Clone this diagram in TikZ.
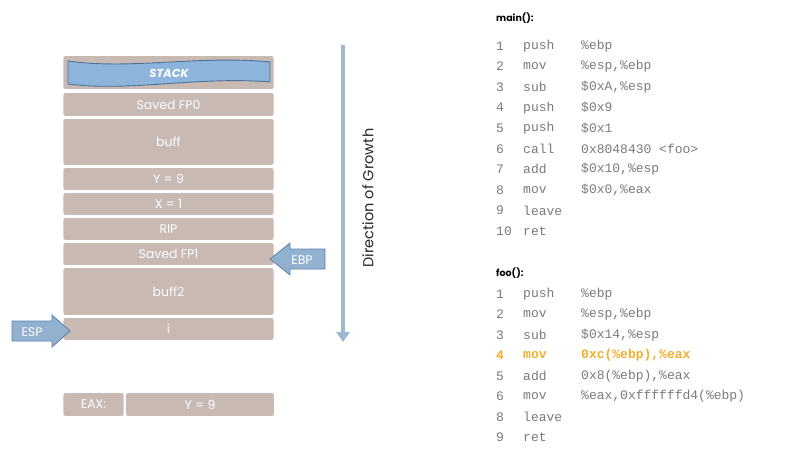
\documentclass[tikz,border=0pt]{standalone}
\usepackage{fontspec}
\setmainfont{Poppins}
\setmonofont{Liberation Mono}
\usetikzlibrary{arrows.meta}
\definecolor{boxc}{HTML}{C9B9B3}
\definecolor{banner}{HTML}{8DB4DA}
\definecolor{bannerb}{HTML}{4D7398}
\definecolor{growth}{HTML}{9DB8D1}
\definecolor{arrf}{HTML}{92B1CF}
\definecolor{arrb}{HTML}{5E82A8}
\definecolor{codec}{HTML}{7A7A7A}
\definecolor{hl}{HTML}{F2AE2E}
\tikzset{
  box/.style={fill=boxc, draw=white, line width=0.8pt, rounded corners=2.5pt, text=white,
    font=\fontsize{12.5}{14}\selectfont, inner sep=0pt},
  blockarrow/.style={fill=arrf, draw=arrb, line width=0.8pt},
  arrtext/.style={text=white, font=\fontsize{12.5}{14}\selectfont, inner sep=0pt},
  num/.style={anchor=west, text=codec, font=\ttfamily\fontsize{13}{15}\selectfont, inner sep=0pt},
  ins/.style={anchor=west, text=codec, font=\ttfamily\fontsize{13}{15}\selectfont, inner sep=0pt},
  hlt/.style={anchor=west, text=hl, font=\ttfamily\bfseries\fontsize{13}{15}\selectfont, inner sep=0pt},
  head/.style={anchor=west, text=black, font=\bfseries\fontsize{9.5}{11}\selectfont, inner sep=0pt},
}
\begin{document}
\begin{tikzpicture}[x=1pt,y=-1pt]
\useasboundingbox (0,0) rectangle (800,466);
% stack boxes
\node[box, minimum width=211pt, minimum height=34pt] (stackbox) at (168.5,72.5) {};
\draw[fill=banner, draw=bannerb, line width=0.9pt] (68,61) .. controls (130,70) and (200,55) .. (270,62)
   -- (270,82) .. controls (200,76) and (130,92) .. (68,84) -- cycle;
\node[text=white, font=\bfseries\itshape\fontsize{11.5}{13}\selectfont] (stacklbl) at (169,73) {STACK};
\node[box, minimum width=211pt, minimum height=24pt] (fp0) at (168.5,104.5) {Saved FP0};
\node[box, minimum width=211pt, minimum height=47pt] (buff) at (168.5,142) {buff};
\node[box, minimum width=211pt, minimum height=23pt] (y9) at (168.5,179) {Y = 9};
\node[box, minimum width=211pt, minimum height=23pt] (x1) at (168.5,204) {X = 1};
\node[box, minimum width=211pt, minimum height=23pt] (rip) at (168.5,229) {RIP};
\node[box, minimum width=211pt, minimum height=23pt] (fp1) at (168.5,254) {Saved FP1};
\node[box, minimum width=211pt, minimum height=48pt] (buff2) at (168.5,291.5) {buff2};
\node[box, minimum width=211pt, minimum height=23pt] (ivar) at (168.5,329) {i};
% EAX
\node[box, minimum width=61pt, minimum height=24pt] (eax) at (93.5,404.5) {EAX:};
\node[box, minimum width=149pt, minimum height=24pt] (eaxval) at (200,404.5) {Y = 9};
% EBP arrow
\draw[blockarrow] (270,259) -- (290,243) -- (290,249) -- (325,249) -- (325,269) -- (290,269) -- (290,275) -- cycle;
\node[arrtext] (ebp) at (302,260) {EBP};
% ESP arrow
\draw[blockarrow] (70,331) -- (52,315) -- (52,321) -- (12,321) -- (12,341) -- (52,341) -- (52,347) -- cycle;
\node[arrtext] (esp) at (32,332) {ESP};
% growth arrow
\coordinate (gtop) at (343,45);
\coordinate (gbot) at (343,342);
\draw[growth, line width=4.5pt, -{Triangle[length=10pt,width=13pt]}] (gtop) -- (gbot);
\node[rotate=90, text=black!85, font=\fontsize{14.5}{16}\selectfont, inner sep=0pt] (growlbl) at (368,198) {Direction of Growth};
% main code
\node[head] (mainh) at (496,18) {main():};
\foreach \n/\i/\o [count=\k] in {1/push/\%ebp, 2/mov/{\%esp,\%ebp}, 3/sub/{\$0xA,\%esp}, 4/push/\$0x9, 5/push/\$0x1,
  6/call/{0x8048430 <foo>}, 7/add/{\$0x10,\%esp}, 8/mov/{\$0x0,\%eax}, 9/leave/{}, 10/ret/{}} {
  \node[num] (mn\k) at (496,{46+20.55*(\k-1)}) {\n};
  \node[ins] (mi\k) at (523,{46+20.55*(\k-1)}) {\i};
  \node[ins] (mo\k) at (581,{46+20.55*(\k-1)}) {\o};
}
% foo code
\node[head] (fooh) at (496,273) {foo():};
\foreach \n/\i/\o [count=\k] in {1/push/\%ebp, 2/mov/{\%esp,\%ebp}, 3/sub/{\$0x14,\%esp}} {
  \node[num] (fn\k) at (496,{294+20.45*(\k-1)}) {\n};
  \node[ins] (fi\k) at (523,{294+20.45*(\k-1)}) {\i};
  \node[ins] (fo\k) at (581,{294+20.45*(\k-1)}) {\o};
}
\node[hlt] (fn4) at (496,355) {4};
\node[hlt] (fi4) at (523,355) {mov};
\node[hlt] (fo4) at (581,355) {0xc(\%ebp),\%eax};
\foreach \n/\i/\o [count=\k from 5] in {5/add/{0x8(\%ebp),\%eax}, 6/mov/{\%eax,0xffffffd4(\%ebp)}, 8/leave/{}, 9/ret/{}} {
  \node[num] (fn\k) at (496,{376+20.4*(\k-5)}) {\n};
  \node[ins] (fi\k) at (523,{376+20.4*(\k-5)}) {\i};
  \node[ins] (fo\k) at (581,{376+20.4*(\k-5)}) {\o};
}
\end{tikzpicture}
\end{document}
